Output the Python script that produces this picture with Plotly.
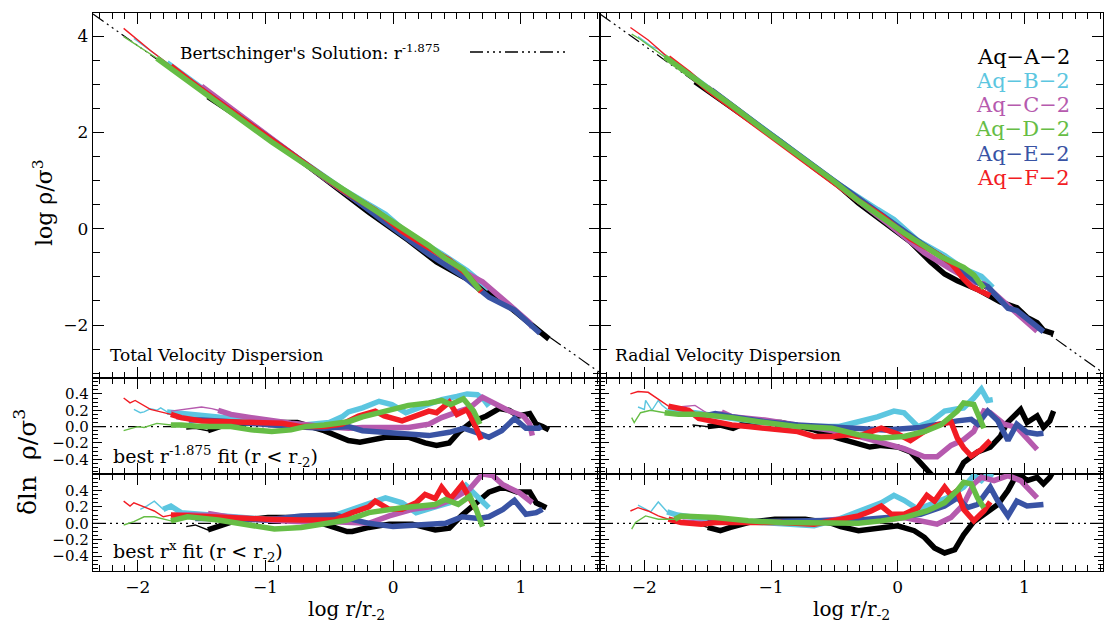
import plotly.graph_objects as go

# ---------------- data ----------------
halo_names = ["Aq-A-2", "Aq-B-2", "Aq-C-2", "Aq-D-2", "Aq-E-2", "Aq-F-2"]
halo_labels = ["Aq\u2212A\u22122", "Aq\u2212B\u22122", "Aq\u2212C\u22122", "Aq\u2212D\u22122", "Aq\u2212E\u22122", "Aq\u2212F\u22122"]
halo_colors = ["#000000", "#5cc6e0", "#b65aae", "#66bd45", "#3953a4", "#f21c24"]
conv_x = [-1.45, -1.77, -1.37, -1.74, -1.55, -1.74]   # thin (unconverged) -> thick
draw_order = [0, 1, 2, 4, 5, 3]

x_range = [-2.35, 1.62]
y_top_range = [-3.1, 4.48]
y_res_range = [-0.58, 0.595]
y_res2_range = [-0.58, 0.6]

bert_x = [-2.35, 1.62]
bert_y = [4.46, -2.99]
zero_x = [-2.35, 1.62]
zero_y = [0.0, 0.0]

# ---- top-left: total velocity dispersion, log rho/sigma^3 ----
tot_x_A = [-1.6, -1.45, -1.1, -0.8, -0.54, -0.35, -0.19, 0.12, 0.34, 0.52, 0.73, 0.91, 1.07, 1.22]
tot_y_A = [3.04, 2.74, 2.13, 1.57, 1.04, 0.64, 0.34, -0.24, -0.69, -0.96, -1.26, -1.62, -1.98, -2.29]
tot_x_B = [-2.03, -1.77, -1.3, -0.8, -0.4, -0.06, 0.12, 0.25, 0.38, 0.58, 0.75]
tot_y_B = [3.95, 3.45, 2.53, 1.57, 0.83, 0.30, -0.11, -0.31, -0.52, -0.87, -1.25]
tot_x_C = [-1.74, -1.5, -1.27, -0.95, -0.54, -0.06, 0.28, 0.52, 0.7, 0.91, 1.07, 1.09]
tot_y_C = [3.39, 2.96, 2.50, 1.86, 1.06, 0.16, -0.47, -0.85, -1.10, -1.58, -1.95, -2.05]
tot_x_D = [-2.11, -2.0, -1.85, -1.66, -1.27, -0.95, -0.69, -0.35, -0.06, 0.28, 0.41, 0.55, 0.68]
tot_y_D = [3.99, 3.80, 3.54, 3.17, 2.43, 1.80, 1.34, 0.74, 0.24, -0.35, -0.62, -0.85, -1.28]
tot_x_E = [-1.66, -1.27, -0.8, -0.35, -0.06, 0.28, 0.55, 0.75, 0.95, 1.04, 1.15]
tot_y_E = [3.19, 2.46, 1.55, 0.71, 0.13, -0.53, -0.99, -1.42, -1.69, -1.91, -2.17]
tot_x_F = [-2.11, -1.9, -1.74, -1.5, -1.1, -0.7, -0.4, -0.14, 0.07, 0.28, 0.44, 0.58, 0.69]
tot_y_F = [4.16, 3.70, 3.38, 2.89, 2.13, 1.36, 0.81, 0.39, -0.05, -0.40, -0.65, -0.95, -1.31]

# ---- top-right: radial velocity dispersion ----
rad_x_A = [-1.6, -1.18, -0.92, -0.66, -0.47, -0.31, -0.13, 0.1, 0.26, 0.37, 0.47, 0.63, 0.81, 0.94, 1.02, 1.1, 1.15, 1.23]
rad_y_A = [3.05, 2.29, 1.80, 1.27, 0.90, 0.53, 0.19, -0.27, -0.69, -0.94, -1.08, -1.26, -1.52, -1.64, -1.84, -1.95, -2.11, -2.18]
rad_x_B = [-2.05, -1.94, -1.89, -1.81, -1.3, -0.79, -0.47, -0.16, -0.03, 0.16, 0.37, 0.52, 0.66, 0.75]
rad_y_B = [3.99, 3.78, 3.73, 3.53, 2.53, 1.53, 0.93, 0.40, 0.19, -0.25, -0.56, -0.83, -0.99, -1.22]
rad_x_C = [-1.73, -1.5, -1.31, -1.05, -0.79, -0.47, -0.08, 0.21, 0.42, 0.6, 0.68, 0.84, 1.02, 1.1]
rad_y_C = [3.39, 2.93, 2.56, 2.05, 1.54, 0.90, 0.11, -0.50, -0.84, -1.11, -1.15, -1.52, -1.92, -2.13]
rad_x_D = [-2.1, -2.03, -1.84, -1.57, -1.31, -1.05, -0.52, -0.31, 0.05, 0.34, 0.52, 0.6, 0.68]
rad_y_D = [4.04, 3.93, 3.57, 3.06, 2.56, 2.04, 1.02, 0.58, -0.09, -0.58, -0.80, -0.96, -1.24]
rad_x_E = [-1.47, -1.31, -1.05, -0.52, -0.2, 0.18, 0.47, 0.63, 0.71, 0.87, 0.94, 1.1, 1.15]
rad_y_E = [2.88, 2.56, 2.05, 1.03, 0.42, -0.29, -0.80, -1.12, -1.20, -1.65, -1.70, -2.05, -2.14]
rad_x_F = [-2.11, -1.97, -1.81, -1.65, -1.5, -1.18, -0.79, -0.52, -0.31, -0.13, 0.1, 0.31, 0.42, 0.52, 0.58, 0.73]
rad_y_F = [4.18, 3.92, 3.55, 3.23, 2.89, 2.26, 1.50, 0.98, 0.58, 0.28, -0.21, -0.52, -0.71, -1.04, -1.20, -1.39]

# ---- residuals, total, best r^-1.875 fit ----
totr1_x_A = [-1.62, -1.55, -1.45, -1.3, -1.1, -0.9, -0.75, -0.54, -0.44, -0.35, -0.26, -0.19, -0.06, 0.12, 0.25, 0.34, 0.44, 0.52, 0.62, 0.73, 0.83, 0.91, 0.98, 1.07, 1.12, 1.17, 1.22]
totr1_y_A = [-0.03, -0.02, -0.05, 0.03, 0.05, 0.05, 0.05, -0.05, -0.11, -0.17, -0.19, -0.17, -0.13, -0.13, -0.2, -0.23, -0.2, -0.06, 0.06, 0.13, 0.22, 0.2, 0.13, 0.16, 0.03, 0.0, -0.04]
totr1_x_B = [-2.03, -1.98, -1.95, -1.9, -1.85, -1.82, -1.77, -1.6, -1.3, -1.0, -0.7, -0.5, -0.4, -0.35, -0.24, -0.11, -0.01, 0.1, 0.25, 0.38, 0.5, 0.58, 0.66, 0.71, 0.75]
totr1_y_B = [0.21, 0.17, 0.18, 0.22, 0.2, 0.23, 0.18, 0.15, 0.1, 0.06, 0.02, 0.05, 0.12, 0.18, 0.23, 0.31, 0.27, 0.17, 0.26, 0.33, 0.37, 0.40, 0.39, 0.33, 0.25]
totr1_x_C = [-1.74, -1.65, -1.58, -1.5, -1.42, -1.37, -1.27, -1.11, -0.95, -0.8, -0.54, -0.35, -0.24, -0.06, 0.12, 0.28, 0.38, 0.52, 0.6, 0.7, 0.77, 0.91, 1.02, 1.07, 1.09]
totr1_y_C = [0.19, 0.21, 0.22, 0.24, 0.22, 0.2, 0.15, 0.11, 0.07, 0.04, 0.0, -0.02, -0.01, -0.01, -0.01, 0.03, 0.11, 0.19, 0.23, 0.36, 0.3, 0.19, 0.13, 0.03, -0.11]
totr1_x_D = [-2.11, -2.06, -2.0, -1.95, -1.85, -1.74, -1.66, -1.5, -1.27, -1.11, -0.95, -0.8, -0.69, -0.54, -0.35, -0.24, -0.06, 0.12, 0.28, 0.38, 0.45, 0.55, 0.63, 0.68]
totr1_y_D = [-0.05, -0.03, 0.0, -0.01, 0.04, 0.02, 0.02, 0.0, 0.0, -0.04, -0.06, -0.04, 0.0, 0.02, 0.06, 0.12, 0.19, 0.26, 0.29, 0.32, 0.27, 0.34, 0.19, 0.03]
totr1_x_E = [-1.7, -1.6, -1.5, -1.27, -1.08, -0.8, -0.54, -0.35, -0.24, -0.06, 0.12, 0.28, 0.44, 0.55, 0.65, 0.75, 0.85, 0.95, 1.04, 1.14, 1.16]
totr1_y_E = [0.1, 0.08, 0.08, 0.06, 0.03, 0.0, -0.02, 0.0, -0.05, -0.07, -0.1, -0.11, -0.07, -0.02, -0.07, -0.13, -0.05, 0.1, -0.02, -0.02, 0.0]
totr1_x_F = [-2.11, -2.06, -2.02, -1.96, -1.9, -1.82, -1.74, -1.66, -1.5, -1.27, -1.11, -0.87, -0.72, -0.54, -0.4, -0.27, -0.14, -0.07, 0.07, 0.2, 0.28, 0.34, 0.44, 0.5, 0.58, 0.65, 0.69]
totr1_y_F = [0.35, 0.29, 0.32, 0.26, 0.21, 0.18, 0.15, 0.11, 0.07, 0.06, 0.04, 0.04, 0.0, 0.0, 0.03, 0.13, 0.19, 0.13, 0.07, 0.15, 0.19, 0.17, 0.30, 0.15, 0.21, -0.01, -0.16]

# ---- residuals, total, best r^x fit ----
totrx_x_A = [-1.62, -1.55, -1.45, -1.24, -0.98, -0.78, -0.6, -0.45, -0.36, -0.32, -0.19, -0.03, 0.15, 0.33, 0.44, 0.54, 0.65, 0.75, 0.86, 0.97, 1.07, 1.12, 1.2]
totrx_y_A = [-0.04, -0.02, -0.08, 0.03, 0.07, 0.07, 0.02, -0.05, -0.1, -0.1, -0.05, -0.01, -0.01, -0.08, -0.06, 0.1, 0.25, 0.38, 0.44, 0.38, 0.38, 0.25, 0.19]
totrx_x_B = [-1.98, -1.93, -1.87, -1.8, -1.74, -1.66, -1.4, -1.0, -0.7, -0.45, -0.32, -0.19, -0.06, 0.07, 0.18, 0.33, 0.44, 0.57, 0.7, 0.75]
totrx_y_B = [0.17, 0.21, 0.27, 0.17, 0.21, 0.13, 0.1, 0.05, 0.05, 0.1, 0.17, 0.24, 0.31, 0.25, 0.13, 0.2, 0.25, 0.46, 0.25, 0.19]
totrx_x_C = [-1.72, -1.6, -1.45, -1.3, -1.0, -0.72, -0.46, -0.19, -0.03, 0.15, 0.33, 0.46, 0.6, 0.7, 0.78, 0.86, 0.99, 1.09]
totrx_y_C = [0.12, 0.13, 0.12, 0.08, 0.04, 0.02, 0.02, 0.0, 0.09, 0.17, 0.21, 0.29, 0.42, 0.6, 0.58, 0.47, 0.37, 0.25]
totrx_x_D = [-2.11, -2.03, -1.95, -1.87, -1.74, -1.61, -1.37, -1.11, -0.93, -0.72, -0.51, -0.36, -0.19, 0.07, 0.33, 0.41, 0.51, 0.6, 0.65, 0.7]
totrx_y_D = [-0.02, 0.02, 0.08, 0.08, 0.03, 0.08, 0.04, -0.03, -0.07, -0.05, 0.0, 0.04, 0.13, 0.19, 0.23, 0.29, 0.23, 0.33, 0.17, -0.04]
totrx_x_E = [-1.7, -1.55, -1.3, -1.0, -0.72, -0.46, -0.19, 0.0, 0.2, 0.41, 0.54, 0.67, 0.75, 0.86, 0.95, 1.04, 1.12, 1.17]
totrx_y_E = [0.08, 0.06, 0.06, 0.04, 0.09, 0.1, 0.0, -0.04, -0.02, 0.0, 0.08, 0.06, 0.08, 0.17, 0.28, 0.11, 0.13, 0.17]
totrx_x_F = [-2.11, -2.06, -2.03, -1.95, -1.87, -1.8, -1.74, -1.5, -1.24, -0.98, -0.72, -0.46, -0.32, -0.19, -0.14, -0.03, 0.07, 0.18, 0.25, 0.33, 0.38, 0.45, 0.54, 0.6, 0.65]
totrx_y_F = [0.27, 0.21, 0.25, 0.2, 0.15, 0.08, 0.1, 0.08, 0.07, 0.05, 0.04, 0.04, 0.13, 0.2, 0.27, 0.17, 0.17, 0.25, 0.35, 0.3, 0.44, 0.3, 0.47, 0.3, 0.17]

# ---- residuals, radial, best r^-1.875 fit ----
radr1_x_A = [-1.62, -1.5, -1.4, -1.3, -1.18, -0.92, -0.66, -0.47, -0.37, -0.31, -0.22, -0.13, 0.0, 0.1, 0.18, 0.26, 0.32, 0.4, 0.47, 0.52, 0.63, 0.73, 0.81, 0.86, 0.94, 0.97, 1.02, 1.1, 1.15, 1.2, 1.23]
radr1_y_A = [0.02, 0.0, 0.02, -0.02, 0.06, 0.05, -0.04, -0.14, -0.19, -0.22, -0.25, -0.23, -0.25, -0.31, -0.44, -0.57, -0.68, -0.7, -0.58, -0.44, -0.31, -0.25, -0.12, 0.04, 0.15, 0.21, 0.05, 0.13, -0.01, 0.07, 0.19]
radr1_x_B = [-2.05, -2.0, -1.99, -1.94, -1.89, -1.86, -1.81, -1.6, -1.3, -1.0, -0.7, -0.47, -0.31, -0.16, -0.03, 0.05, 0.16, 0.26, 0.37, 0.52, 0.6, 0.66, 0.71, 0.75]
radr1_y_B = [0.24, 0.21, 0.32, 0.2, 0.32, 0.26, 0.2, 0.17, 0.1, 0.04, 0.0, 0.0, 0.06, 0.12, 0.19, 0.17, 0.0, 0.06, 0.19, 0.23, 0.35, 0.46, 0.32, 0.33]
radr1_x_C = [-1.73, -1.6, -1.5, -1.39, -1.31, -1.05, -0.79, -0.47, -0.31, -0.08, 0.05, 0.21, 0.31, 0.42, 0.52, 0.6, 0.68, 0.73, 0.84, 0.94, 1.02, 1.1]
radr1_y_C = [0.24, 0.26, 0.16, 0.18, 0.12, 0.08, 0.02, -0.06, -0.12, -0.21, -0.27, -0.37, -0.37, -0.23, -0.16, -0.06, 0.19, 0.17, 0.03, -0.01, -0.14, -0.28]
radr1_x_D = [-2.1, -2.08, -2.03, -1.95, -1.84, -1.73, -1.57, -1.31, -1.05, -0.79, -0.52, -0.31, -0.13, 0.05, 0.21, 0.34, 0.47, 0.52, 0.6, 0.68]
radr1_y_D = [0.11, 0.05, 0.17, 0.2, 0.17, 0.15, 0.15, 0.11, 0.05, 0.0, -0.02, -0.1, -0.14, -0.12, -0.06, 0.02, 0.19, 0.29, 0.27, -0.02]
radr1_x_E = [-1.5, -1.44, -1.31, -1.05, -0.79, -0.52, -0.34, -0.1, 0.18, 0.31, 0.47, 0.58, 0.63, 0.71, 0.79, 0.87, 0.94, 1.02, 1.1, 1.15]
radr1_y_E = [0.14, 0.16, 0.12, 0.06, 0.02, 0.0, -0.02, -0.04, -0.01, 0.03, 0.07, 0.09, 0.03, 0.19, 0.07, -0.17, 0.03, -0.07, -0.09, -0.08]
radr1_x_F = [-2.11, -2.05, -1.97, -1.89, -1.81, -1.73, -1.65, -1.57, -1.5, -1.42, -1.31, -1.18, -1.0, -0.79, -0.66, -0.52, -0.39, -0.31, -0.21, -0.13, 0.0, 0.1, 0.21, 0.31, 0.42, 0.47, 0.52, 0.58, 0.66, 0.73]
radr1_y_F = [0.4, 0.43, 0.42, 0.33, 0.25, 0.23, 0.2, 0.1, 0.08, 0.06, 0.02, 0.0, -0.02, -0.06, -0.12, -0.12, -0.1, -0.12, -0.06, -0.02, -0.09, -0.17, -0.06, 0.02, 0.06, -0.14, -0.26, -0.36, -0.28, -0.17]

# ---- residuals, radial, best r^x fit ----
radrx_x_A = [-1.58, -1.5, -1.4, -1.32, -1.18, -0.97, -0.73, -0.52, -0.45, -0.31, -0.21, 0.0, 0.13, 0.21, 0.29, 0.37, 0.45, 0.52, 0.6, 0.71, 0.79, 0.87, 0.92, 0.96, 1.02, 1.1, 1.15, 1.2, 1.23]
radrx_y_A = [-0.01, -0.05, -0.09, -0.05, 0.01, 0.05, 0.05, 0.0, -0.04, -0.09, -0.07, -0.03, -0.09, -0.17, -0.3, -0.36, -0.32, -0.14, 0.02, 0.15, 0.23, 0.4, 0.54, 0.6, 0.52, 0.56, 0.48, 0.56, 0.64]
radrx_x_B = [-2.05, -2.0, -1.95, -1.89, -1.82, -1.74, -1.5, -1.2, -0.9, -0.66, -0.47, -0.31, -0.13, -0.03, 0.05, 0.16, 0.26, 0.39, 0.52, 0.6, 0.66, 0.71, 0.75]
radrx_y_B = [0.22, 0.18, 0.14, 0.26, 0.14, 0.1, 0.05, 0.02, 0.0, -0.03, 0.05, 0.15, 0.25, 0.34, 0.28, 0.17, 0.23, 0.31, 0.44, 0.58, 0.52, 0.6, 0.56]
radrx_x_C = [-1.7, -1.5, -1.3, -1.0, -0.7, -0.47, -0.31, -0.13, 0.05, 0.18, 0.31, 0.42, 0.52, 0.6, 0.66, 0.76, 0.87, 0.97, 1.05, 1.1]
radrx_y_C = [0.04, 0.02, 0.02, 0.01, 0.02, 0.05, 0.03, 0.03, 0.07, 0.03, -0.01, 0.07, 0.23, 0.48, 0.56, 0.52, 0.58, 0.52, 0.4, 0.31]
radrx_x_D = [-2.1, -2.07, -1.99, -1.89, -1.76, -1.71, -1.44, -1.18, -0.92, -0.66, -0.47, -0.31, -0.13, 0.05, 0.23, 0.37, 0.47, 0.52, 0.58, 0.63, 0.68]
radrx_y_D = [-0.07, 0.01, 0.09, 0.05, 0.05, 0.09, 0.07, 0.03, 0.01, 0.01, 0.01, 0.0, 0.03, 0.07, 0.15, 0.25, 0.4, 0.5, 0.48, 0.31, 0.19]
radrx_x_E = [-1.5, -1.4, -1.2, -0.9, -0.6, -0.31, -0.08, 0.18, 0.37, 0.47, 0.55, 0.63, 0.73, 0.79, 0.87, 0.94, 1.02, 1.1, 1.15]
radrx_y_E = [0.02, 0.03, 0.02, 0.03, 0.04, 0.04, 0.07, 0.11, 0.21, 0.31, 0.19, 0.23, 0.44, 0.27, 0.09, 0.27, 0.21, 0.23, 0.23]
radrx_x_F = [-2.11, -2.05, -1.97, -1.89, -1.81, -1.71, -1.55, -1.44, -1.18, -0.92, -0.66, -0.47, -0.31, -0.21, -0.13, -0.05, 0.05, 0.16, 0.23, 0.29, 0.37, 0.42, 0.47, 0.52, 0.6, 0.68, 0.73]
radrx_y_F = [0.15, 0.19, 0.15, 0.09, 0.05, 0.01, -0.01, 0.01, 0.01, 0.01, -0.01, 0.04, 0.09, 0.15, 0.21, 0.11, 0.11, 0.19, 0.34, 0.27, 0.44, 0.34, 0.4, 0.17, 0.03, 0.15, 0.26]

x_tick_vals = [-2, -1, 0, 1]
y_top_tick_vals = [-2, 0, 2, 4]
y_res_tick_vals = [-0.4, -0.2, 0.0, 0.2, 0.4]
y_res_tick_text = ["\u22120.4", "\u22120.2", "0.0", "0.2", "0.4"]

panels = {
    # name: (xaxis id, yaxis id, list of (x, y) per halo)
    "tot":   ("x",  "y",  [(tot_x_A, tot_y_A), (tot_x_B, tot_y_B), (tot_x_C, tot_y_C), (tot_x_D, tot_y_D), (tot_x_E, tot_y_E), (tot_x_F, tot_y_F)]),
    "rad":   ("x2", "y2", [(rad_x_A, rad_y_A), (rad_x_B, rad_y_B), (rad_x_C, rad_y_C), (rad_x_D, rad_y_D), (rad_x_E, rad_y_E), (rad_x_F, rad_y_F)]),
    "totr1": ("x3", "y3", [(totr1_x_A, totr1_y_A), (totr1_x_B, totr1_y_B), (totr1_x_C, totr1_y_C), (totr1_x_D, totr1_y_D), (totr1_x_E, totr1_y_E), (totr1_x_F, totr1_y_F)]),
    "radr1": ("x4", "y4", [(radr1_x_A, radr1_y_A), (radr1_x_B, radr1_y_B), (radr1_x_C, radr1_y_C), (radr1_x_D, radr1_y_D), (radr1_x_E, radr1_y_E), (radr1_x_F, radr1_y_F)]),
    "totrx": ("x5", "y5", [(totrx_x_A, totrx_y_A), (totrx_x_B, totrx_y_B), (totrx_x_C, totrx_y_C), (totrx_x_D, totrx_y_D), (totrx_x_E, totrx_y_E), (totrx_x_F, totrx_y_F)]),
    "radrx": ("x6", "y6", [(radrx_x_A, radrx_y_A), (radrx_x_B, radrx_y_B), (radrx_x_C, radrx_y_C), (radrx_x_D, radrx_y_D), (radrx_x_E, radrx_y_E), (radrx_x_F, radrx_y_F)]),
}

# ---------------- figure ----------------
W, H = 1105, 627
SERIF = "DejaVu Serif"
DASH = "13px,4px,2px,4px,2px,4px,2px,4px"

fig = go.Figure()

# reference lines
for xa, ya in [("x", "y"), ("x2", "y2")]:
    fig.add_trace(go.Scatter(x=bert_x, y=bert_y, xaxis=xa, yaxis=ya, mode="lines",
                             line=dict(color="black", width=1.2, dash=DASH),
                             showlegend=False, hoverinfo="skip"))
for xa, ya in [("x3", "y3"), ("x4", "y4"), ("x5", "y5"), ("x6", "y6")]:
    fig.add_trace(go.Scatter(x=zero_x, y=zero_y, xaxis=xa, yaxis=ya, mode="lines",
                             line=dict(color="black", width=1.2, dash=DASH),
                             showlegend=False, hoverinfo="skip"))

for key, (xa, ya, series) in panels.items():
    for i in draw_order:
        xs, ys = series[i]
        cx = conv_x[i]
        idx_thin = [k for k, v in enumerate(xs) if v <= cx]
        if idx_thin:
            last = idx_thin[-1]
            fig.add_trace(go.Scatter(x=xs[:last + 2], y=ys[:last + 2], xaxis=xa, yaxis=ya,
                                     mode="lines", line=dict(color=halo_colors[i], width=1.4),
                                     name=halo_names[i], showlegend=False))
            start = last
        else:
            start = 0
        fig.add_trace(go.Scatter(x=xs[start:], y=ys[start:], xaxis=xa, yaxis=ya,
                                 mode="lines", line=dict(color=halo_colors[i], width=5.5),
                                 name=halo_names[i], showlegend=False))

# axes layout (pixel-based domains)
def fx(px):
    return px / W

def fy(py):
    return 1 - py / H

XL = [fx(93), fx(600)]
XR = [fx(600), fx(1103)]
Y1 = [fy(378), fy(13)]
Y2 = [fy(474), fy(378)]
Y3 = [fy(571), fy(474)]

tickfont = dict(family=SERIF, size=17, color="black")
base = dict(showline=True, linecolor="black", linewidth=1.4, mirror="allticks",
            ticks="inside", tickcolor="black", tickwidth=1.2, showgrid=False,
            zeroline=False, tickfont=tickfont)

def xax(domain, anchor, labels):
    d = dict(base)
    d.update(domain=domain, anchor=anchor, range=x_range, tickmode="array",
             tickvals=x_tick_vals, ticklen=11, showticklabels=labels,
             minor=dict(ticks="inside", ticklen=6, tickwidth=1.0, tickcolor="black",
                        tickmode="linear", tick0=0, dtick=0.1, showgrid=False))
    return d

def yax(domain, anchor, kind, labels):
    d = dict(base)
    if kind == "top":
        d.update(range=y_top_range, tickmode="array", tickvals=y_top_tick_vals,
                 ticklen=11,
                 minor=dict(ticks="inside", ticklen=7, tickwidth=1.0, tickcolor="black",
                            tickmode="linear", tick0=0, dtick=0.5, showgrid=False))
    else:
        d.update(range=y_res_range if kind == "r1" else y_res2_range, tickmode="array",
                 tickvals=y_res_tick_vals, ticktext=y_res_tick_text, ticklen=9,
                 tickfont=dict(family=SERIF, size=15, color="black"),
                 minor=dict(ticks="inside", ticklen=5, tickwidth=0.9, tickcolor="black",
                            tickmode="linear", tick0=0, dtick=0.05, showgrid=False))
    d.update(domain=domain, anchor=anchor, showticklabels=labels)
    return d

fig.update_layout(
    width=W, height=H,
    margin=dict(l=0, r=0, t=0, b=0),
    paper_bgcolor="white", plot_bgcolor="white",
    showlegend=False,
    xaxis=xax(XL, "y", False), yaxis=yax(Y1, "x", "top", True),
    xaxis2=xax(XR, "y2", False), yaxis2=yax(Y1, "x2", "top", False),
    xaxis3=xax(XL, "y3", False), yaxis3=yax(Y2, "x3", "r1", True),
    xaxis4=xax(XR, "y4", False), yaxis4=yax(Y2, "x4", "r1", False),
    xaxis5=xax(XL, "y5", True), yaxis5=yax(Y3, "x5", "rx", True),
    xaxis6=xax(XR, "y6", True), yaxis6=yax(Y3, "x6", "rx", False),
)

ann = []
def text(x, y, s, size, xanchor="left", family=SERIF, color="black", angle=0):
    ann.append(dict(x=x, y=y, xref="paper", yref="paper", text=s, showarrow=False,
                    xanchor=xanchor, yanchor="middle", textangle=angle,
                    font=dict(family=family, size=size, color=color)))

text(fx(178), fy(52), "Bertschinger's Solution: r<sup>-1.875</sup>", 17)
text(fx(108), fy(355), "Total Velocity Dispersion", 17)
text(fx(613), fy(355), "Radial Velocity Dispersion", 17)
text(fx(111), fy(457), "best r<sup>-1.875</sup> fit (r &lt; r<sub>-2</sub>)", 19)
text(fx(111), fy(551), "best r<sup>x</sup> fit (r &lt; r<sub>-2</sub>)", 19)
text(fx(346), fy(610), "log r/r<sub>-2</sub>", 20, xanchor="center")
text(fx(851), fy(610), "log r/r<sub>-2</sub>", 20, xanchor="center")
text(fx(43), fy(203), "log \u03c1/\u03c3<sup>3</sup>", 22, xanchor="center", angle=-90)
text(fx(25), fy(462), "\u03b4ln  \u03c1/\u03c3<sup>3</sup>", 25, xanchor="center", angle=-90)

legend_y = [57, 81, 105, 129, 154, 178]
for i in range(6):
    text(fx(1072), fy(legend_y[i]), halo_labels[i], 21, xanchor="right",
         family=SERIF, color=halo_colors[i])

fig.update_layout(annotations=ann)

# legend glyph for Bertschinger's solution
fig.add_shape(type="line", xref="paper", yref="paper",
              x0=fx(470), x1=fx(566), y0=fy(52), y1=fy(52),
              line=dict(color="black", width=1.3, dash=DASH))

fig.write_html("out.html", config={"displayModeBar": False},
               post_script="document.body.style.margin='0px';document.body.style.overflow='hidden';")
